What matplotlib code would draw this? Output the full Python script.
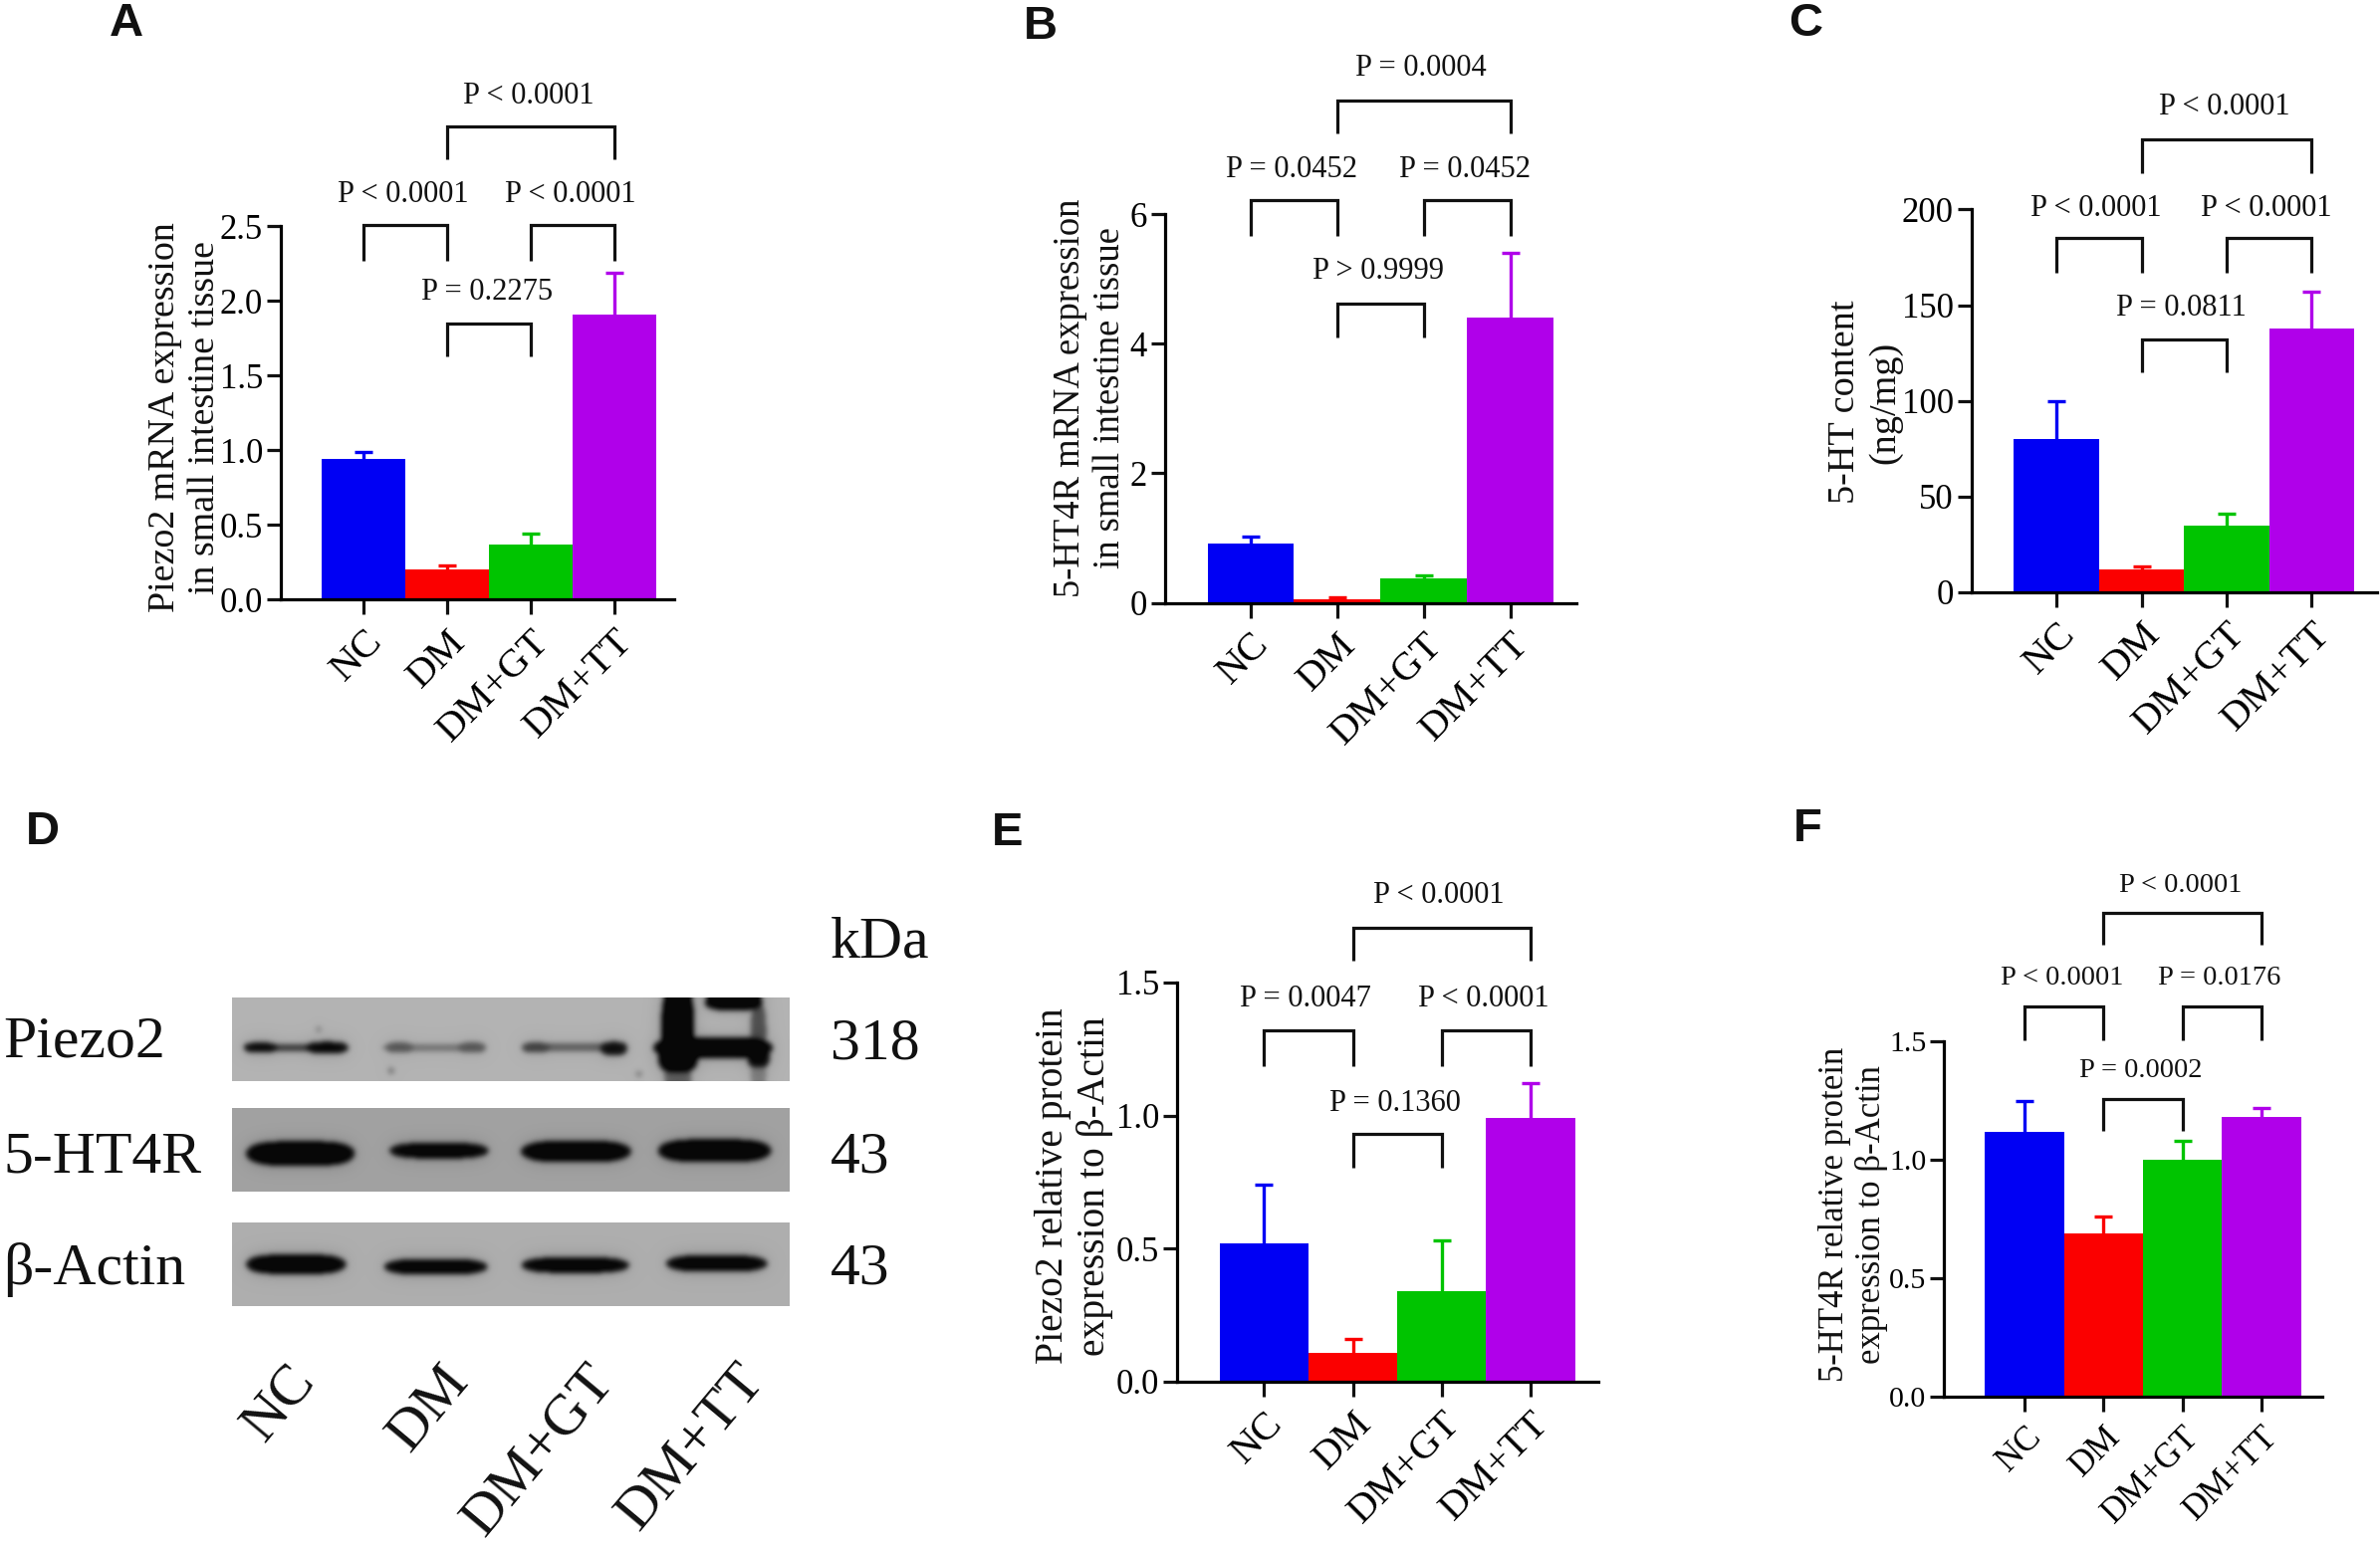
import numpy as np
import matplotlib
matplotlib.use("Agg")
import matplotlib.pyplot as plt

plt.rcParams['font.family'] = ['Liberation Serif', 'DejaVu Serif']
W, H = 2390, 1555
S = W / 1567.0

groups = ["NC", "DM", "DM+GT", "DM+TT"]
colors = ["#0000f4", "#fb0000", "#00c400", "#b000ea"]

a_vals = [0.94, 0.20, 0.37, 1.91]
a_tops = [0.99, 0.23, 0.44, 2.19]
a_ticks = [0.0, 0.5, 1.0, 1.5, 2.0, 2.5]
a_p = ["P < 0.0001", "P < 0.0001", "P = 0.2275", "P < 0.0001"]

b_vals = [0.92, 0.06, 0.38, 4.40]
b_tops = [1.02, 0.08, 0.43, 5.40]
b_ticks = [0, 2, 4, 6]
b_p = ["P = 0.0452", "P = 0.0452", "P > 0.9999", "P = 0.0004"]

c_vals = [80, 12, 35, 138]
c_tops = [100, 13.5, 41, 157]
c_ticks = [0, 50, 100, 150, 200]
c_p = ["P < 0.0001", "P < 0.0001", "P = 0.0811", "P < 0.0001"]

e_vals = [0.52, 0.11, 0.34, 0.99]
e_tops = [0.74, 0.16, 0.53, 1.12]
e_ticks = [0.0, 0.5, 1.0, 1.5]
e_p = ["P = 0.0047", "P < 0.0001", "P = 0.1360", "P < 0.0001"]

f_vals = [1.12, 0.69, 1.00, 1.18]
f_tops = [1.25, 0.76, 1.08, 1.22]
f_ticks = [0.0, 0.5, 1.0, 1.5]
f_p = ["P < 0.0001", "P = 0.0176", "P = 0.0002", "P < 0.0001"]

fig = plt.figure(figsize=(W / 100, H / 100), dpi=100, facecolor="white")


def fx(x):
    return x * S / W


def fy(y):
    return 1 - y * S / H


def panel(vals, tops, ticks, fmt, p, levels, spine, barl, barw, xend, ybase, ytop,
          ylabel, ylx, yly, ls=27.3, ts=25, ps=22, xs=29, lsp=1.2):
    n0 = -0.5 - (barl - spine) / barw
    n1 = 3.5 + (xend - (barl + 4 * barw)) / barw
    ax = fig.add_axes([fx(spine), fy(ybase), fx(xend - spine), fy(ytop) - fy(ybase)])
    ax.patch.set_alpha(0)
    x = np.arange(4)
    ax.bar(x, vals, width=1.0, color=colors, zorder=2)
    for i in x:
        ax.errorbar(i, vals[i], yerr=[[vals[i] * 0.5], [tops[i] - vals[i]]], color=colors[i],
                    elinewidth=2.4, capsize=6.5, capthick=2.4, zorder=1, clip_on=False)
    ax.set_xlim(n0, n1)
    ax.set_ylim(ticks[0], ticks[-1])
    ax.set_yticks(ticks)
    ax.set_yticklabels([fmt % t for t in ticks], fontsize=ts)
    ax.set_xticks(x)
    ax.set_xticklabels(groups, fontsize=xs, rotation=45, ha="right", va="top",
                       rotation_mode="anchor")
    for sp in ("top", "right"):
        ax.spines[sp].set_visible(False)
    for sp in ("left", "bottom"):
        ax.spines[sp].set_linewidth(2.3)
    ax.tick_params(axis="both", length=11, width=2.3, color="#111111")
    ax.tick_params(axis="x", pad=6)
    ax.tick_params(axis="y", length=10, pad=3)
    pairs = [(0, 1), (2, 3), (1, 2), (1, 3)]
    for (i, j), lab, (top, low, txt) in zip(pairs, p, levels):
        ax.plot([i, i, j, j], [low, top, top, low], color="#111111", lw=2.3,
                clip_on=False, solid_joinstyle="miter", solid_capstyle="butt")
        ax.annotate(lab, ((i + j) / 2 - 0.03, txt), xytext=(0, -2.2), textcoords="offset points",
                    ha="center", va="center", fontsize=ps, color="#111111",
                    annotation_clip=False)
    fig.text(fx(ylx), fy(yly), ylabel, rotation=90, ha="center", va="center",
             fontsize=ls, linespacing=lsp, multialignment="center", color="#111111")
    return ax


panel(a_vals, a_tops, a_ticks, "%.1f", a_p,
      [(2.51, 2.27, 2.73), (2.51, 2.27, 2.73), (1.85, 1.63, 2.08), (3.17, 2.95, 3.39)],
      185, 212, 55, 444, 395, 149,
      "Piezo2 mRNA expression\nin small intestine tissue", 122, 275)
panel(b_vals, b_tops, b_ticks, "%d", b_p,
      [(6.21, 5.67, 6.73), (6.21, 5.67, 6.73), (4.62, 4.10, 5.16), (7.76, 7.24, 8.30)],
      767, 795, 57, 1038, 397, 141,
      "5-HT4R mRNA expression\nin small intestine tissue", 718, 262, ls=26.4)
panel(c_vals, c_tops, c_ticks, "%d", c_p,
      [(185, 167, 202), (185, 167, 202), (132, 115, 150), (236.5, 219, 255)],
      1298, 1326, 56, 1565, 390, 138,
      "5-HT content\n(ng/mg)", 1228, 265, ls=27.5)
panel(e_vals, e_tops, e_ticks, "%.1f", e_p,
      [(1.318, 1.186, 1.449), (1.318, 1.186, 1.449), (0.93, 0.804, 1.055), (1.706, 1.58, 1.837)],
      775, 803, 58.5, 1052, 910, 647,
      "Piezo2 relative protein\nexpression to β-Actin", 707, 781, ls=28.5)
panel(f_vals, f_tops, f_ticks, "%.1f", f_p,
      [(1.647, 1.506, 1.782), (1.647, 1.506, 1.782), (1.256, 1.122, 1.391), (2.045, 1.91, 2.173)],
      1280, 1307, 52, 1529, 920, 686,
      "5-HT4R relative protein\nexpression to β-Actin", 1220, 800,
      ls=25, ts=21.5, ps=20.5, xs=25, lsp=1.15)

# Panel D: western blot strips (centre, half-width, centre-y, half-height, depth)
piezo_bands = [(0.114, 0.092, 0.60, 0.045, 0.72), (0.05, 0.03, 0.60, 0.06, 1.0),
               (0.17, 0.038, 0.60, 0.07, 1.0),
               (0.36, 0.092, 0.60, 0.045, 0.38), (0.30, 0.025, 0.60, 0.06, 0.55),
               (0.43, 0.025, 0.60, 0.06, 0.55),
               (0.613, 0.09, 0.60, 0.05, 0.50), (0.545, 0.025, 0.60, 0.06, 0.68),
               (0.685, 0.024, 0.61, 0.08, 0.95),
               (0.863, 0.108, 0.60, 0.13, 1.0), (0.80, 0.030, 0.35, 0.50, 1.0),
               (0.80, 0.036, 0.72, 0.18, 1.0), (0.80, 0.024, 0.95, 0.14, 0.45),
               (0.90, 0.052, 0.05, 0.10, 1.0), (0.945, 0.014, 0.40, 0.32, 0.55),
               (0.945, 0.020, 0.72, 0.12, 0.95), (0.945, 0.014, 0.92, 0.14, 0.30)]
ht4r_bands = [(0.122, 0.098, 0.545, 0.15, 1.0), (0.371, 0.089, 0.51, 0.095, 1.0),
              (0.617, 0.099, 0.52, 0.13, 1.0), (0.866, 0.102, 0.51, 0.14, 1.0)]
actin_bands = [(0.114, 0.09, 0.50, 0.12, 1.0), (0.365, 0.093, 0.53, 0.095, 1.0),
               (0.616, 0.097, 0.51, 0.095, 1.0), (0.87, 0.091, 0.49, 0.10, 1.0)]
blot_bg = [0.70, 0.63, 0.68]
spots = [(0.155, 0.38, 0.25), (0.285, 0.88, 0.35), (0.73, 0.92, 0.3)]


def blur(img, sigma):
    r = int(3 * sigma)
    k = np.exp(-0.5 * (np.arange(-r, r + 1) / sigma) ** 2)
    k /= k.sum()
    pad = np.pad(img, r, mode="edge")
    pad = np.apply_along_axis(lambda v: np.convolve(v, k, mode="same"), 0, pad)
    pad = np.apply_along_axis(lambda v: np.convolve(v, k, mode="same"), 1, pad)
    return pad[r:-r, r:-r]


def strip(bands, bg, extra=()):
    ny, nx = 84, 560
    xx, yy = np.meshgrid(np.linspace(0, 1, nx), np.linspace(0, 1, ny))
    dark = np.zeros_like(xx)
    for cx, hw, cy, hh, d in bands:
        q = np.abs((xx - cx) / hw) ** 4 + np.abs((yy - cy) / hh) ** 2
        dark = np.maximum(dark, d * (q < 1))
    for cx, cy, d in extra:
        q = ((xx - cx) / 0.006) ** 2 + ((yy - cy) / 0.04) ** 2
        dark = np.maximum(dark, d * (q < 1))
    soft = np.clip(0.8 * blur(dark, 2.6) + 0.2 * blur(dark, 8), 0, 1)
    soft = np.clip(soft * 1.12, 0, 1)
    return bg * (1 - soft) + 0.03 * soft


for (y0, y1), bands, bg, ex in zip([(657, 712), (730, 785), (805, 860)],
                                   [piezo_bands, ht4r_bands, actin_bands], blot_bg,
                                   [spots, (), ()]):
    ax = fig.add_axes([fx(153), fy(y1), fx(520 - 153), fy(y0) - fy(y1)])
    ax.imshow(strip(bands, bg, ex), cmap="gray", vmin=0, vmax=1, aspect="auto",
              interpolation="bilinear")
    ax.axis("off")

for t, y in zip(["Piezo2", "5-HT4R", "β-Actin"], [687, 763, 836]):
    fig.text(fx(2), fy(y), t, fontsize=43, ha="left", va="center", color="#111111")
for t, y in zip(["kDa", "318", "43", "43"], [621, 688, 763, 836]):
    fig.text(fx(547), fy(y), t, fontsize=43, ha="left", va="center", color="#111111")
for t, (x, y) in zip(groups, [(188, 893), (289, 893), (385, 893), (484, 893)]):
    fig.text(fx(x), fy(y), t, fontsize=42, rotation=50, ha="right", va="top",
             rotation_mode="anchor", color="#111111")

for t, (x, y) in zip("ABCDEF", [(83, 16), (685, 18), (1189, 16), (28, 548), (663, 549), (1190, 546)]):
    fig.text(fx(x), fy(y), t, fontsize=34, fontweight="bold", ha="center", va="center",
             family="Liberation Sans", color="#111111")

fig.savefig("out.png", dpi=100)
